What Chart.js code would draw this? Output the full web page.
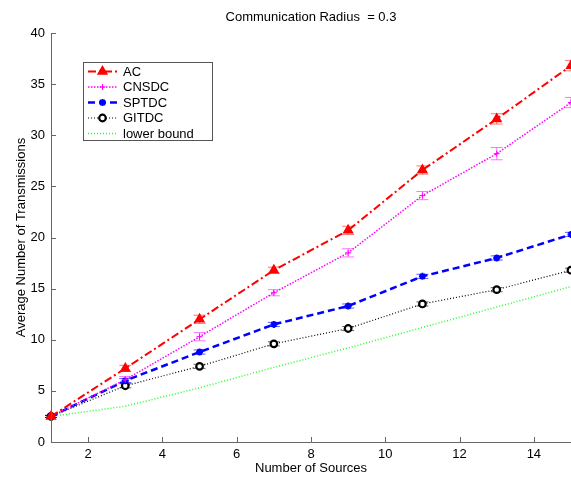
<!DOCTYPE html>
<html><head><meta charset="utf-8">
<script src="https://cdn.jsdelivr.net/npm/chart.js@4.4.1/dist/chart.umd.min.js"></script>
<style>html,body{margin:0;padding:0;background:#fff}#wrap{width:571px;height:480px}</style>
</head><body><div id="wrap"><canvas id="c" width="571" height="480"></canvas></div>
<script>
const sources = [1, 3, 5, 7, 9, 11, 13, 15];
const acValues = [2.5, 7.2, 12.0, 16.8, 20.7, 26.6, 31.6, 36.8];
const acErrors = [0.1, 0.3, 0.4, 0.3, 0.4, 0.4, 0.5, 0.5];
const cnsdcValues = [2.5, 6.1, 10.3, 14.6, 18.5, 24.1, 28.2, 33.2];
const cnsdcErrors = [0.1, 0.3, 0.4, 0.3, 0.4, 0.4, 0.6, 0.5];
const sptdcValues = [2.5, 6.0, 8.8, 11.5, 13.3, 16.2, 18.0, 20.3];
const sptdcErrors = [0.1, 0.2, 0.2, 0.2, 0.2, 0.2, 0.2, 0.2];
const gitdcValues = [2.5, 5.5, 7.4, 9.6, 11.1, 13.5, 14.9, 16.8];
const gitdcErrors = [0.1, 0.2, 0.2, 0.2, 0.2, 0.2, 0.2, 0.2];
const lowerBoundValues = [2.5, 3.5, 5.3, 7.3, 9.2, 11.2, 13.2, 15.2];
const xTicks = [2, 4, 6, 8, 10, 12, 14];
const yTicks = [0, 5, 10, 15, 20, 25, 30, 35, 40];
const seriesNames = ['AC', 'CNSDC', 'SPTDC', 'GITDC', 'lower bound'];
const titleText = 'Communication Radius  = 0.3';
const xTitle = 'Number of Sources';
const yTitle = 'Average Number of Transmissions';

const FAMILY = '"Liberation Sans", Arial, sans-serif';
const FONT = '13px ' + FAMILY;
const toPts = v => sources.map((x, i) => ({x: x, y: v[i]}));

const datasets = [
  {label: seriesNames[0], data: toPts(acValues), errors: acErrors, borderColor: '#ff0000', backgroundColor: '#ff0000',
   borderWidth: 2, borderDash: [8, 3, 2, 3], pointStyle: 'triangle', pointRadius: 5, pointBorderWidth: 1.5, errColor: 'rgba(255,70,70,0.75)'},
  {label: seriesNames[1], data: toPts(cnsdcValues), errors: cnsdcErrors, borderColor: '#ff00ff', backgroundColor: '#ff00ff',
   borderWidth: 1.5, borderDash: [1.5, 1.5], pointStyle: 'cross', pointRadius: 3, pointBorderWidth: 1, errColor: 'rgba(255,70,255,0.75)'},
  {label: seriesNames[2], data: toPts(sptdcValues), errors: sptdcErrors, borderColor: '#0000ff', backgroundColor: '#0000ff',
   borderWidth: 2.5, borderDash: [7, 4], pointStyle: 'star', pointRadius: 3.5, pointBorderWidth: 2, errColor: 'rgba(40,40,255,0.75)'},
  {label: seriesNames[3], data: toPts(gitdcValues), errors: gitdcErrors, borderColor: '#000000', backgroundColor: '#ffffff',
   borderWidth: 1.2, borderDash: [1, 2], pointStyle: 'circle', pointRadius: 3.3, pointBorderWidth: 2.2, errColor: 'rgba(0,0,0,0.6)'},
  {label: seriesNames[4], data: toPts(lowerBoundValues), borderColor: '#22ff22', backgroundColor: '#22ff22',
   borderWidth: 1.5, borderDash: [1, 2], pointRadius: 0}
];
datasets.forEach(d => { d.tension = 0; d.fill = false; d.pointBorderColor = d.borderColor; d.pointBackgroundColor = d.backgroundColor; d.clip = false; });

const customDraw = {
  id: 'customDraw',
  beforeDatasetsDraw(chart) {
    const ctx = chart.ctx, xs = chart.scales.x, ys = chart.scales.y;
    ctx.save();
    chart.data.datasets.forEach(d => {
      if (!d.errors) return;
      ctx.strokeStyle = d.errColor; ctx.lineWidth = 1; ctx.setLineDash([]);
      d.data.forEach((p, i) => {
        const px = xs.getPixelForValue(p.x);
        const y1 = ys.getPixelForValue(p.y - d.errors[i]);
        const y2 = ys.getPixelForValue(p.y + d.errors[i]);
        ctx.beginPath();
        ctx.moveTo(px, y1); ctx.lineTo(px, y2);
        ctx.moveTo(px - 6, y1); ctx.lineTo(px + 6, y1);
        ctx.moveTo(px - 6, y2); ctx.lineTo(px + 6, y2);
        ctx.stroke();
      });
    });
    ctx.restore();
  },
  afterDraw(chart) {
    const ctx = chart.ctx, xs = chart.scales.x, ys = chart.scales.y, a = chart.chartArea;
    ctx.save();
    ctx.strokeStyle = '#666'; ctx.lineWidth = 1; ctx.setLineDash([]);
    ctx.beginPath();
    ctx.moveTo(a.left + 0.5, a.top); ctx.lineTo(a.left + 0.5, a.bottom + 0.5); ctx.lineTo(a.right, a.bottom + 0.5);
    xTicks.forEach(t => { const px = Math.round(xs.getPixelForValue(t)) + 0.5; ctx.moveTo(px, a.bottom); ctx.lineTo(px, a.bottom - 5); });
    yTicks.forEach(t => { const py = Math.round(ys.getPixelForValue(t)) + 0.5; ctx.moveTo(a.left, py); ctx.lineTo(a.left + 5, py); });
    ctx.stroke();
    ctx.fillStyle = '#000'; ctx.font = FONT; ctx.textAlign = 'center'; ctx.textBaseline = 'middle';
    ctx.fillText(titleText, (a.left + a.right) / 2, 17);
    ctx.fillText(xTitle, (a.left + a.right) / 2, 468);
    ctx.save(); ctx.translate(21, (a.top + a.bottom) / 2); ctx.rotate(-Math.PI / 2); ctx.fillText(yTitle, 0, 0); ctx.restore();
    const bx = 83, by = 62, bw = 129, bh = 78;
    ctx.fillStyle = '#fff'; ctx.fillRect(bx, by, bw, bh);
    ctx.strokeStyle = '#555'; ctx.lineWidth = 1; ctx.strokeRect(bx + 0.5, by + 0.5, bw, bh);
    chart.data.datasets.forEach((d, i) => {
      const y = by + 9.5 + i * 15.5;
      ctx.strokeStyle = d.borderColor; ctx.lineWidth = d.borderWidth; ctx.setLineDash(d.borderDash || []);
      ctx.beginPath(); ctx.moveTo(88, y); ctx.lineTo(117, y); ctx.stroke();
      ctx.setLineDash([]);
      if (d.pointRadius > 0) {
        ctx.lineWidth = d.pointBorderWidth; ctx.strokeStyle = d.borderColor; ctx.fillStyle = d.backgroundColor;
        Chart.helpers.drawPoint(ctx, {pointStyle: d.pointStyle, radius: d.pointRadius, rotation: 0, borderWidth: d.pointBorderWidth}, 102.5, y);
      }
      ctx.fillStyle = '#000'; ctx.font = FONT; ctx.textAlign = 'left'; ctx.textBaseline = 'middle';
      ctx.fillText(d.label, 123, y + 0.5);
    });
    ctx.restore();
  }
};

new Chart(document.getElementById('c'), {
  type: 'line',
  data: {datasets: datasets},
  options: {
    responsive: false, animation: false,
    layout: {autoPadding: false, padding: {top: 33, right: 0, left: 0, bottom: 0}},
    plugins: {legend: {display: false}, title: {display: false}, tooltip: {enabled: false}},
    scales: {
      x: {type: 'linear', min: 1, max: 15,
          afterBuildTicks: s => { s.ticks = xTicks.map(v => ({value: v})); },
          afterFit: s => { s.height = 38; s.paddingRight = 0; s.paddingLeft = 0; },
          grid: {display: false, drawTicks: false, tickLength: 0}, border: {display: false},
          ticks: {color: '#000', font: {family: FAMILY, size: 13}, padding: 5, maxRotation: 0, autoSkip: false}},
      y: {type: 'linear', min: 0, max: 40,
          afterBuildTicks: s => { s.ticks = yTicks.map(v => ({value: v})); },
          afterFit: s => { s.width = 51; },
          grid: {display: false, drawTicks: false, tickLength: 0}, border: {display: false},
          ticks: {color: '#000', font: {family: FAMILY, size: 13}, padding: 6}}
    }
  },
  plugins: [customDraw]
});
</script></body></html>
